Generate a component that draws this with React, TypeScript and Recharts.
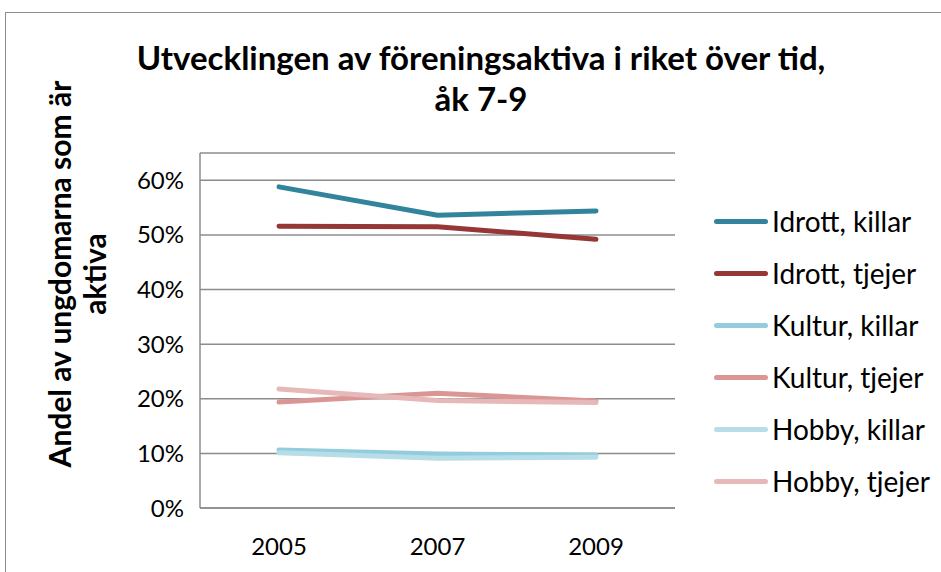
import { LineChart, Line, XAxis, YAxis, CartesianGrid } from "recharts";

const years = ["2005", "2007", "2009"];
const idrottKillar = [0.588, 0.536, 0.544];
const idrottTjejer = [0.516, 0.515, 0.492];
const kulturKillar = [0.106, 0.099, 0.097];
const kulturTjejer = [0.194, 0.21, 0.196];
const hobbyKillar = [0.101, 0.091, 0.093];
const hobbyTjejer = [0.218, 0.197, 0.193];
const yTicks = [0, 0.1, 0.2, 0.3, 0.4, 0.5, 0.6];

const series = [
  { key: "ik", name: "Idrott, killar", color: "#31849B", values: idrottKillar },
  { key: "it", name: "Idrott, tjejer", color: "#953735", values: idrottTjejer },
  { key: "kk", name: "Kultur, killar", color: "#93CDDD", values: kulturKillar },
  { key: "kt", name: "Kultur, tjejer", color: "#D99694", values: kulturTjejer },
  { key: "hk", name: "Hobby, killar", color: "#B7DEE8", values: hobbyKillar },
  { key: "ht", name: "Hobby, tjejer", color: "#E6B9B8", values: hobbyTjejer },
];

const data = years.map((year, i) => {
  const row: Record<string, string | number> = { year };
  series.forEach((s) => {
    row[s.key] = s.values[i];
  });
  return row;
});

const font = "Lato, 'Open Sans', sans-serif";

const LegendBox = () => (
  <div
    style={{
      position: "absolute",
      left: 714,
      top: 195,
      fontFamily: font,
      fontSize: 28,
      color: "#000",
    }}
  >
    {series.map((s) => (
      <div
        key={s.key}
        style={{ display: "flex", alignItems: "center", height: 52 }}
      >
        <div
          style={{
            width: 54,
            height: 5,
            borderRadius: 3,
            background: s.color,
            marginRight: 4,
          }}
        />
        <span>{s.name}</span>
      </div>
    ))}
  </div>
);

export default function App() {
  return (
    <div
      style={{
        position: "absolute",
        left: 0,
        top: 0,
        width: 941,
        height: 572,
        overflow: "hidden",
        background: "#fff",
      }}
    >
      <div
        style={{
          position: "absolute",
          left: 5,
          top: 12,
          width: 960,
          height: 620,
          border: "1.5px solid #8c8c8c",
        }}
      />
      <div
        style={{
          position: "absolute",
          left: 0,
          top: 37,
          width: 962,
          textAlign: "center",
          fontFamily: font,
          fontWeight: 700,
          fontSize: 33,
          lineHeight: "41px",
        }}
      >
        Utvecklingen av föreningsaktiva i riket över tid,
        <br />
        åk 7-9
      </div>
      <div
        style={{
          position: "absolute",
          left: 78 - 250,
          top: 274 - 36,
          width: 500,
          height: 72,
          transform: "rotate(-90deg)",
          textAlign: "center",
          fontFamily: font,
          fontWeight: 700,
          fontSize: 30,
          lineHeight: "35px",
        }}
      >
        Andel av ungdomarna som är
        <br />
        aktiva
      </div>
      <LineChart
        width={941}
        height={572}
        data={data}
        margin={{ top: 153, right: 266, bottom: 34, left: 130 }}
        style={{ position: "absolute", left: 0, top: 0 }}
      >
        <CartesianGrid
          vertical={false}
          stroke="#8c8c8c"
          strokeWidth={1.5}
        />
        <XAxis
          dataKey="year"
          padding={{ left: 79, right: 79 }}
          axisLine={{ stroke: "#8c8c8c", strokeWidth: 1.5 }}
          tickLine={false}
          tick={{ fill: "#000", fontSize: 24, fontFamily: font }}
          tickMargin={24}
          height={30}
        />
        <YAxis
          domain={[0, 0.65]}
          ticks={yTicks}
          width={70}
          axisLine={{ stroke: "#8c8c8c", strokeWidth: 1.5 }}
          tickLine={false}
          tickFormatter={(v: number) => `${Math.round(v * 100)}%`}
          tick={{ fill: "#000", fontSize: 24, fontFamily: font }}
          tickMargin={10}
        />
        {series.map((s) => (
          <Line
            key={s.key}
            dataKey={s.key}
            name={s.name}
            stroke={s.color}
            strokeWidth={5}
            strokeLinecap="round"
            dot={false}
            activeDot={false}
            isAnimationActive={false}
          />
        ))}
      </LineChart>
      <LegendBox />
    </div>
  );
}
